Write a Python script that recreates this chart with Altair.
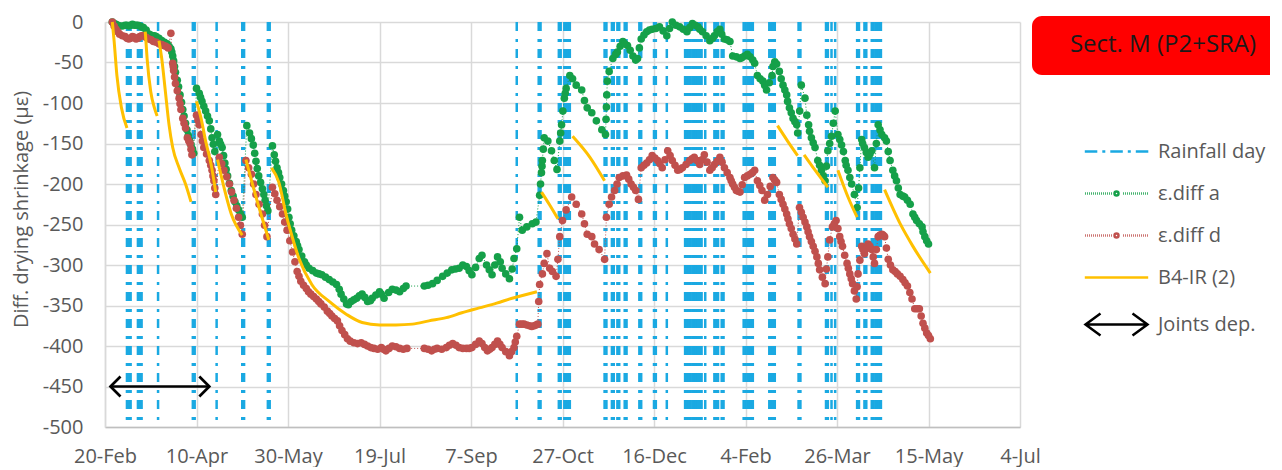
import altair as alt
import pandas as pd

FONT = "Open Sans"
START = "2024-02-20"
END = "2025-07-04"

# ---------------- data (day = days after 20-Feb-2024) ----------------
rain_days = [12, 13, 14, 18, 19, 20, 29, 48, 49, 61, 75, 76, 89, 90,
             225, 237, 238, 248, 249, 251, 252, 253, 254,
             273, 274, 277, 278, 280, 281, 284, 285, 292, 293, 300, 301, 307,
             317, 318, 319, 320, 321, 322, 323, 324, 325, 326, 328,
             333, 334, 335, 337, 338, 349, 350, 351, 352, 353, 354,
             363, 364, 365, 366, 379, 380, 394, 395, 397, 399,
             411, 412, 415, 416, 419, 420, 421, 422, 423, 424]

# ε.diff a (green) readings
a_days = [4, 6, 8, 11, 13, 15, 17, 19, 21, 24,
          26, 28, 31, 34, 36, 37, 38, 39.5, 41, 42.5,
          44, 45.5, 47, 48.5, 50, 51.5, 53, 55, 57, 58.5,
          60, 61.5, 62.5, 64, 65.5, 67, 69, 71, 73, 75,
          77.5, 79, 81, 82.5, 84, 86, 87.5, 89, 91.5, 92.5,
          94, 95.5, 97.5, 99, 100.5, 102, 104.5, 106, 109, 111.5,
          115.5, 118.5, 122.5, 126.5, 129, 132, 134.5, 137.5, 140.5, 143.5,
          146, 150, 152.5, 157, 161, 164.5, 174.5, 179, 184.5, 189.5,
          193.5, 197.5, 200.5, 204.5, 206, 208.5, 211.5, 214.5, 217, 221,
          223.5, 225, 226.5, 228, 230.5, 233.5, 235.5, 237.5, 238.5, 239,
          240, 242, 244, 245.5, 247, 248.5, 249.5, 251, 252, 254,
          255.5, 257.5, 260.5, 262, 263.5, 266, 268.5, 271.5, 273.5, 274.5,
          275.5, 277.5, 280, 283, 285.5, 288.5, 291, 293, 296, 299,
          303, 307, 310, 314, 318, 321, 324, 326.5, 330.5, 333,
          336, 338.5, 341.5, 343, 347, 349.5, 352.5, 355, 356.5, 359.5,
          361.5, 364.5, 366, 368.5, 370.5, 372.5, 374, 376, 378, 378.5,
          380.5, 382.5, 383.5, 384.5, 386, 388, 389.5, 391.5, 393.5, 395,
          397, 399, 400.5, 402.5, 404.5, 406, 408, 409.5, 411, 412.5,
          413.5, 415, 417, 419, 420.5, 422.5, 424.5, 427, 429, 430.5,
          432.5, 434.5, 437, 440, 441.5, 443.5, 446.5, 448, 450]
a_vals = [0, -3, -5, -4, -5, -3, -4, -5, -7, -15,
          -17, -18, -23, -27, -33, -42, -55, -72, -90, -108,
          -125, -140, -152, -162, -82, -88, -98, -110, -122, -143,
          -160, -139, -147, -155, -174, -190, -208, -222, -232, -241,
          -128, -137, -152, -172, -190, -206, -220, -233, -153, -164,
          -180, -192, -208, -222, -241, -257, -271, -281, -296, -304,
          -310, -312, -318, -324, -336, -348, -345, -341, -336, -345,
          -341, -333, -341, -330, -333, -326, -326, -323, -314, -306,
          -304, -302, -312, -292, -288, -300, -312, -290, -304, -317,
          -292, -280, -241, -257, -253, -249, -247, -214, -186, -171,
          -143, -147, -159, -171, -182, -147, -127, -94, -82, -66,
          -70, -78, -84, -97, -106, -112, -122, -133, -139, -73,
          -61, -45, -37, -24, -29, -42, -45, -21, -12, -9,
          -6, -17, 0, -6, -12, -2, -6, -12, -23, -17,
          -9, -21, -24, -42, -45, -42, -43, -51, -66, -73,
          -84, -66, -49, -61, -78, -90, -106, -119, -127, -137,
          -78, -94, -115, -127, -143, -155, -171, -183, -196, -159,
          -141, -110, -139, -152, -171, -183, -200, -213, -229, -180,
          -145, -155, -167, -159, -180, -127, -139, -147, -171, -183,
          -196, -213, -216, -225, -237, -245, -253, -265, -274]
# further ε.diff a readings (between the ones above)
a2_days = [5, 7, 9.5, 12, 14, 16, 18, 20, 22.5, 25,
           27, 29.5, 32.5, 35, 36.5, 37.5, 38.5, 40.2, 41.8, 43.2,
           44.8, 46.2, 47.8, 52.2, 54, 56, 57.8, 59.2, 63.2, 64.8,
           66.2, 68, 70, 72, 74, 80, 81.8, 83.2, 85, 86.8,
           88.2, 93.2, 94.8, 96.5, 98.2, 99.8, 101.2, 103.2, 105.2, 107.5,
           110, 113.5, 117, 120.5, 124.5, 128, 130.5, 133, 136, 139,
           142, 145, 148, 151, 155, 159, 163, 176.5, 181.5, 187,
           191.5, 195.5, 199, 202.5, 210, 213, 216, 219, 222.5, 238,
           238.8, 239.5, 249, 250.2, 251.5, 273.8, 274, 274.2, 279, 281.5,
           284, 287, 290, 292, 294.5, 297.5, 301, 305, 308.5, 312,
           316, 319.5, 322.5, 325, 328.5, 332, 334.5, 337, 340, 345,
           348, 351, 354, 358, 360.5, 363, 365, 367, 369.5, 371.5,
           373, 375, 377, 379.6, 385, 387, 390.5, 392.5, 394.2, 396,
           398, 401.5, 403.5, 405, 407, 411.8, 414, 416, 418, 421.5,
           423.5, 426, 428, 431.5, 433.5, 436, 438.5, 442.5, 445, 447,
           449]
a2_vals = [-2, -4, -5, -4, -4, -4, -4, -6, -10, -16,
           -17, -20, -25, -30, -37, -48, -62, -80, -99, -116,
           -133, -146, -157, -93, -104, -116, -132, -151, -151, -165,
           -182, -199, -215, -227, -237, -144, -162, -181, -198, -213,
           -227, -172, -186, -200, -215, -231, -249, -264, -276, -289,
           -300, -307, -311, -315, -321, -330, -342, -349, -343, -338,
           -340, -344, -337, -336, -334, -331, -329, -325, -319, -310,
           -305, -300, -307, -303, -306, -300, -296, -311, -305, -200,
           -178, -157, -137, -110, -88, -120, -105, -90, -40, -30,
           -27, -35, -47, -32, -16, -10, -8, -11, -8, -4,
           -9, -7, -4, -9, -17, -20, -12, -15, -22, -43,
           -44, -40, -47, -70, -78, -75, -55, -52, -70, -84,
           -98, -112, -123, -110, -135, -149, -177, -190, -178, -150,
           -125, -145, -160, -177, -192, -205, -150, -161, -163, -150,
           -133, -143, -160, -190, -205, -215, -220, -241, -249, -259,
           -270]

# ε.diff d (red) readings
d_days = [4, 6, 8, 11, 13, 15, 17, 19, 21, 24,
          26.5, 29.5, 32, 34.5, 36, 37, 37.5, 38.5, 40.5, 41.5,
          42.5, 44, 45, 46.5, 47.5, 50, 51.5, 52.5, 54, 57,
          58.5, 59.5, 60.5, 62.5, 65, 68, 70.5, 73, 75, 77,
          80, 82.5, 86, 88.5, 91.5, 94, 97, 99.5, 102.5, 105,
          107, 110, 112.5, 115.5, 118, 121.5, 124, 127, 129.5, 132.5,
          136, 140, 143.5, 147, 151, 153.5, 157, 161, 165, 174.5,
          178.5, 181.5, 186.5, 190, 193.5, 197.5, 200.5, 204.5, 206, 209,
          211.5, 214.5, 217, 221, 223.5, 225, 226.5, 229, 232, 234.5,
          236.5, 237.5, 239, 240, 241.5, 243, 244.5, 246.5, 247.5, 248.5,
          250, 252, 255, 257.5, 260.5, 262, 263.5, 266, 267.5, 270,
          273, 274, 275.5, 278.5, 281, 285, 287.5, 290, 291.5, 293,
          296, 299, 302, 304.5, 307.5, 310, 313, 315.5, 319.5, 322,
          325, 327.5, 330.5, 333, 336, 338.5, 341.5, 343, 345, 347,
          349.5, 352.5, 355, 356.5, 359, 360.5, 362, 365, 367, 368.5,
          370.5, 372.5, 374, 376, 378, 379.5, 381.5, 383.5, 385, 387,
          389, 390.5, 393.5, 395, 396, 397.5, 399.5, 401.5, 403, 405.5,
          407, 408.5, 410.5, 411.5, 413.5, 415, 417, 419, 420.5, 422.5,
          424.5, 426, 428, 430.5, 433, 436, 438.5, 441, 442.5, 445,
          447, 449, 451]
d_vals = [0, -9, -15, -18, -21, -18, -21, -18, -17, -21,
          -24, -27, -29, -32, -14, -51, -60, -76, -94, -108,
          -119, -131, -143, -150, -164, -115, -127, -139, -155, -171,
          -183, -196, -213, -167, -183, -200, -220, -241, -262, -171,
          -188, -213, -237, -265, -204, -220, -237, -257, -284, -308,
          -320, -329, -336, -342, -348, -357, -363, -369, -381, -391,
          -396, -396, -400, -403, -402, -406, -400, -403, -403, -403,
          -406, -403, -402, -397, -402, -403, -402, -394, -397, -406,
          -402, -394, -402, -412, -402, -388, -373, -373, -375, -375,
          -373, -324, -311, -298, -286, -304, -308, -314, -293, -265,
          -245, -232, -216, -225, -237, -249, -262, -265, -274, -281,
          -293, -241, -225, -208, -192, -189, -200, -208, -219, -180,
          -174, -165, -171, -180, -159, -171, -183, -180, -171, -167,
          -176, -164, -183, -176, -167, -180, -192, -200, -208, -210,
          -192, -188, -183, -196, -208, -220, -213, -192, -198, -213,
          -225, -237, -249, -262, -274, -229, -241, -253, -265, -277,
          -290, -306, -323, -290, -269, -253, -245, -265, -277, -298,
          -311, -323, -342, -311, -277, -286, -274, -281, -298, -265,
          -262, -265, -293, -306, -311, -318, -326, -342, -354, -354,
          -372, -384, -391]
# further ε.diff d readings
d2_days = [5, 7, 9.5, 12, 14, 16, 18, 20, 22.5, 25.2,
           28, 31, 33.2, 37.3, 38, 39.5, 41, 43.2, 45.8, 47,
           50.8, 53.2, 55.5, 57.8, 59, 60, 63.8, 66.5, 69.2, 71.8,
           74, 78.5, 81.2, 84.2, 87.2, 92.8, 95.5, 98.2, 101, 103.8,
           106, 108.5, 111.2, 114, 116.8, 119.8, 122.8, 125.5, 128.2, 131,
           134, 138, 141.8, 145.2, 149, 152.2, 155.2, 159, 163, 176.5,
           180, 184, 188.2, 191.8, 195.5, 199, 202.5, 207.5, 210.2, 213,
           215.8, 219, 222.2, 224.2, 227.8, 230.5, 233.2, 235.5, 237, 276.8,
           279.8, 283, 286.2, 288.8, 294.5, 297.5, 300.5, 303.2, 306, 308.8,
           311.5, 314.2, 317.5, 320.8, 323.5, 326.2, 329, 331.8, 334.5, 337.2,
           340, 342.2, 344, 346, 348.2, 351, 353.8, 357.8, 363.5, 366,
           369.5, 371.5, 373.2, 375, 377, 380.5, 382.5, 384.2, 386, 388,
           389.8, 392, 394.2, 398.5, 400.5, 402.2, 404.2, 406.2, 407.8, 409.5,
           411, 412.5, 414.2, 416, 418, 419.8, 421.5, 423.5, 425.2, 427,
           429.2, 431.8, 434.5, 437.2, 439.8, 443.8, 446, 448, 450]
d2_vals = [-5, -12, -17, -20, -20, -19, -20, -17, -19, -22,
           -25, -28, -30, -55, -68, -85, -101, -125, -147, -157,
           -121, -147, -163, -177, -190, -205, -175, -191, -210, -230,
           -251, -180, -200, -225, -251, -212, -228, -247, -270, -296,
           -314, -325, -333, -339, -345, -352, -360, -366, -375, -386,
           -394, -397, -398, -402, -404, -404, -403, -401, -404, -404,
           -404, -404, -399, -399, -403, -403, -398, -402, -404, -398,
           -398, -407, -407, -395, -373, -374, -376, -374, -345, -216,
           -200, -190, -194, -204, -177, -170, -168, -175, -170, -165,
           -177, -182, -176, -169, -171, -170, -173, -180, -172, -173,
           -186, -196, -204, -209, -201, -190, -186, -202, -203, -195,
           -219, -231, -243, -255, -268, -235, -247, -259, -271, -283,
           -298, -315, -305, -249, -255, -271, -288, -304, -317, -332,
           -327, -294, -281, -280, -277, -290, -281, -263, -263, -279,
           -300, -308, -314, -322, -334, -354, -363, -378, -387]

# B4-IR (2) model curves, one segment per drying period
b4_seg = [1, 1, 1, 1, 1,
          2, 2, 2, 2, 2,
          3, 3, 3, 3, 3, 3, 3, 3,
          4, 4, 4, 4, 4,
          5, 5, 5, 5,
          6, 6, 6,
          7, 7, 7, 7, 7, 7, 7, 7, 7, 7, 7, 7, 7, 7, 7, 7, 7, 7, 7,
          8, 8, 8,
          9, 9, 9,
          10, 10, 10,
          11, 11, 11,
          12, 12, 12,
          13, 13, 13, 13]
b4_days = [4, 5, 6.5, 9, 12,
           22, 23, 25, 27, 28.5,
           29.5, 31, 33, 35, 37, 40.5, 44, 47,
           50, 52.5, 55, 58, 60.5,
           61.5, 65, 69, 75,
           77, 83, 89.5,
           91, 95, 99, 102, 106, 113, 122.5, 132, 140.5, 150, 159, 168, 177, 186.5, 195, 204.5, 214, 222.5, 236,
           238.5, 243, 247.5,
           255.5, 265, 273,
           367.5, 373, 378.5,
           382, 388, 395,
           400.5, 406, 411,
           426, 434.5, 441.5, 451]
b4_vals = [0, -24, -66, -106, -131,
           -12, -45, -86, -106, -116,
           -23, -45, -86, -127, -155, -180, -200, -222,
           -98, -119, -147, -176, -210,
           -170, -204, -237, -263,
           -170, -220, -269,
           -180, -198, -238, -263, -292, -324, -345, -361, -371, -374, -374, -373, -369, -365, -359, -353, -347, -341, -333,
           -210, -226, -243,
           -141, -167, -196,
           -128, -147, -165,
           -164, -183, -204,
           -183, -216, -241,
           -207, -249, -277, -310]

joint_days = [3, 57]
joint_value = -450

x_tick_dates = ["2024-02-20", "2024-04-10", "2024-05-30", "2024-07-19", "2024-09-07",
                "2024-10-27", "2024-12-16", "2025-02-04", "2025-03-26", "2025-05-15",
                "2025-07-04"]
y_ticks = [-500, -450, -400, -350, -300, -250, -200, -150, -100, -50, 0]

legend_names = ["Rainfall day", "ε.diff a", "ε.diff d", "B4-IR (2)", "Joints dep."]
title_box_text = ["Sect. M (P2+SRA)"]

# ---------------- styles ----------------
BLUE = "#1AA9E2"
GREEN = "#15A049"
RED = "#C0504D"
GOLD = "#FFC000"
GREY_TXT = "#595959"
GRID = "#D9D9D9"

start = pd.Timestamp(START)


def to_dates(days):
    return [start + pd.Timedelta(days=float(d)) for d in days]


def dt(s):
    t = pd.Timestamp(s)
    return alt.DateTime(year=t.year, month=t.month, date=t.day)


rain_df = pd.DataFrame({"date": to_dates(rain_days), "value": 0, "value2": -500})
a_df = pd.DataFrame({"date": to_dates(a_days + a2_days), "value": a_vals + a2_vals})
d_df = pd.DataFrame({"date": to_dates(d_days + d2_days), "value": d_vals + d2_vals})
b4_df = pd.DataFrame({"date": to_dates(b4_days), "value": b4_vals, "seg": b4_seg})
joint_df = pd.DataFrame({"date": to_dates(joint_days[:1]), "date2": to_dates(joint_days[1:]),
                         "value": [joint_value]})
jl_df = pd.DataFrame({"date": to_dates(joint_days[:1]), "value": [joint_value]})
jr_df = pd.DataFrame({"date": to_dates(joint_days[1:]), "value": [joint_value]})
leg_df = pd.DataFrame({"series": legend_names,
                       "date": [start - pd.Timedelta(days=60)] * len(legend_names),
                       "value": [300] * len(legend_names)})
box_df = pd.DataFrame({"label": title_box_text})

x_scale = alt.Scale(domain=[dt(START), dt(END)], nice=False)
y_scale = alt.Scale(domain=[-500, 0], nice=False, zero=False)

x_axis = alt.Axis(values=[dt(t) for t in x_tick_dates], format="%-d-%b", title=None,
                  labelFontSize=20, labelColor=GREY_TXT, labelFont=FONT, labelPadding=19,
                  ticks=False, grid=True, gridColor=GRID, gridWidth=1.5,
                  domainColor="#BFBFBF", domainWidth=1.5, labelFlush=False, labelOverlap=False)
y_axis = alt.Axis(values=y_ticks, labelExpr="datum.value == 0 ? '0' : '-' + abs(datum.value)",
                  title="Diff. drying shrinkage  (με)", titleFontSize=20, titleFontWeight="normal",
                  titleColor=GREY_TXT, titleFont=FONT, titleX=-84, titleY=187, titleAngle=270,
                  titleAlign="center", titleBaseline="middle",
                  labelFontSize=20, labelColor=GREY_TXT, labelFont=FONT, labelPadding=22,
                  ticks=False, grid=True, gridColor=GRID, gridWidth=1.5,
                  domainColor=GRID, domainWidth=1.5)

X = alt.X("date:T", scale=x_scale, axis=x_axis)
Y = alt.Y("value:Q", scale=y_scale, axis=y_axis)


# legend symbol paths (unit = 10 px with symbolSize 400)
def seg(a, b):
    return f"M{a:.2f},0L{b:.2f},0"


rain_path = "".join([seg(-3.17, -1.92), seg(-1.42, -1.12), seg(-0.62, 0.63),
                     seg(1.13, 1.43), seg(1.93, 3.18)])
dot_parts = []
xx = -3.15
while xx < 3.15:
    if abs(xx) > 0.5:
        dot_parts.append(seg(xx, xx + 0.08))
    xx += 0.2
dot_path = "".join(dot_parts) + "M-0.2,0A0.2,0.2 0 1,0 0.2,0A0.2,0.2 0 1,0 -0.2,0Z"
line_path = seg(-3.17, 3.17)
arrow_path = ("M-3.05,0L3.05,0M-1.6,-1.1L-3.1,0L-1.6,1.1"
              "M1.6,-1.1L3.1,0L1.6,1.1")

LEG = alt.Legend(title=None, orient="none", legendX=1000, legendY=118, symbolSize=400,
                 symbolStrokeWidth=2.5, labelFontSize=20, labelFont=FONT, labelColor=GREY_TXT,
                 labelOffset=30, rowPadding=20, padding=0, labelLimit=400, symbolOpacity=1)

rain = alt.Chart(rain_df).mark_rule(color=BLUE, strokeWidth=2.5, strokeDash=[9, 8, 3, 7]).encode(
    x=X, y=Y, y2=alt.Y2("value2"))

a_line = alt.Chart(a_df).mark_line(color=GREEN, strokeWidth=1, strokeDash=[1, 2]).encode(x=X, y=Y)
d_line = alt.Chart(d_df).mark_line(color=RED, strokeWidth=1, strokeDash=[1, 2]).encode(x=X, y=Y)
a_pts = alt.Chart(a_df).mark_circle(size=58, opacity=1, color=GREEN).encode(x=X, y=Y)
d_pts = alt.Chart(d_df).mark_circle(size=58, opacity=1, color=RED).encode(x=X, y=Y)

b4 = alt.Chart(b4_df).mark_line(color=GOLD, strokeWidth=3, interpolate="monotone").encode(
    x=X, y=Y, detail="seg:N")

joint = alt.Chart(joint_df).mark_rule(color="black", strokeWidth=2.7).encode(
    x=X, x2=alt.X2("date2"), y=Y)
jl = alt.Chart(jl_df).mark_point(shape="M1,-1L0,0L1,1", size=400, color="black",
                                 strokeWidth=2.7, opacity=1, filled=False).encode(x=X, y=Y)
jr = alt.Chart(jr_df).mark_point(shape="M-1,-1L0,0L-1,1", size=400, color="black",
                                 strokeWidth=2.7, opacity=1, filled=False).encode(x=X, y=Y)

legend_layer = alt.Chart(leg_df).mark_point(clip=True, filled=False, opacity=1, size=400,
                                            strokeWidth=2.5).encode(
    x=X, y=Y,
    color=alt.Color("series:N", scale=alt.Scale(domain=legend_names,
                                                range=[BLUE, GREEN, RED, GOLD, "black"]),
                    legend=LEG),
    shape=alt.Shape("series:N", scale=alt.Scale(domain=legend_names,
                                                range=[rain_path, dot_path, dot_path,
                                                       line_path, arrow_path]),
                    legend=LEG),
)

box = alt.Chart(box_df).mark_rect(color="#FF0000", cornerRadius=10).encode(
    x=alt.value(927), x2=alt.value(1195), y=alt.value(-6), y2=alt.value(53))
box_text = alt.Chart(box_df).mark_text(fontSize=24, font=FONT, color="#1A1A1A",
                                       align="center", baseline="middle").encode(
    text="label:N", x=alt.value(1058), y=alt.value(23))

chart = alt.layer(rain, a_line, d_line, a_pts, d_pts, b4, joint, jl, jr, legend_layer,
                  box, box_text).properties(
    width=915, height=405,
    padding={"left": 97, "top": 14, "right": 250, "bottom": 40},
    autosize=alt.AutoSizeParams(type="none"),
    background="white",
).configure_view(stroke=None)

chart.save("out.html", embed_options={"renderer": "svg", "actions": False})
